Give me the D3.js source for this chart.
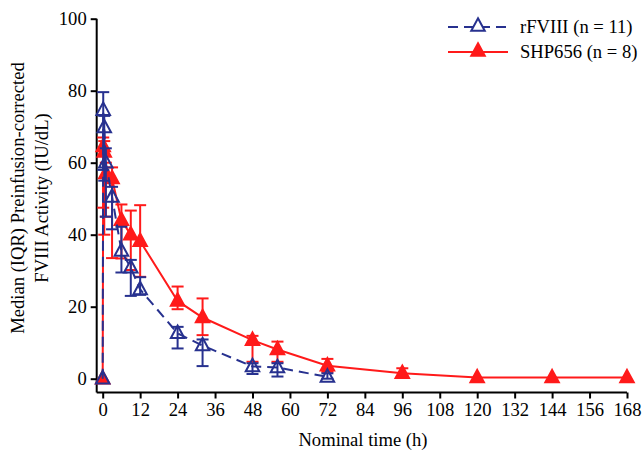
<!DOCTYPE html>
<html>
<head>
<meta charset="utf-8">
<script src="https://cdn.jsdelivr.net/npm/d3@7/dist/d3.min.js"></script>
<style>
  body { margin: 0; background: #fff; }
</style>
</head>
<body>
<svg id="chart" width="644" height="457"></svg>
<script>
// ---- Data ----
const xTicks = [0, 12, 24, 36, 48, 60, 72, 84, 96, 108, 120, 132, 144, 156, 168];
const yTicks = [0, 20, 40, 60, 80, 100];

const rfTime   = [0, 0.17, 0.5, 1, 3, 6, 9, 12, 24, 32, 48, 56, 72];
const rfMedian = [0, 74.6, 69.8, 60, 50.5, 35.5, 30.8, 24.8, 12.6, 9.2, 3.4, 3.1, 0.5];
const rfQ1     = [0, 58, 55, 45, 41.5, 29.5, 23, 23.3, 8.4, 3.5, 1.3, 0.6, 0];
const rfQ3     = [0, 79.6, 73, 64, 53.3, 42.2, 33, 28.2, 14.4, 10.9, 4.3, 4.3, 1.5];

const shpTime   = [0, 0.17, 0.5, 1, 3, 6, 9, 12, 24, 32, 48, 56, 72, 96, 120, 144, 168];
const shpMedian = [0, 64.5, 63, 57, 55.6, 44, 40, 38.2, 21.6, 17, 10.7, 8.1, 3.6, 1.5, 0.3, 0.3, 0.3];
const shpQ1     = [0, 47.5, 40, 45, 33.5, 33.4, 30.2, 28.3, 19.3, 12.1, 4.7, 4.7, 1.9, 0.6, 0.3, 0.3, 0.3];
const shpQ3     = [0, 67, 66, 60, 58.7, 48.4, 46.7, 48.2, 25.6, 22.3, 11.9, 10.3, 5.5, 2.9, 0.3, 0.3, 0.3];

const seriesNames = ["rFVIII (n = 11)", "SHP656 (n = 8)"];

// ---- Layout ----
const FONT = '"Times New Roman", Times, "Liberation Serif", "DejaVu Serif", serif';
const FS = 18.6;
const svg = d3.select("#chart");
const x = d3.scaleLinear().domain([0, 168]).range([102.7, 627]);
const y = d3.scaleLinear().domain([0, 100]).range([378.7, 18.7]);
const axisX = 96.7, axisY = 392.5;
const blue = "#27318f", red = "#ff1a1a";

function tri(cx, cy, w = 13.5, h = 12.5) {
  return `M${cx},${cy - h * 0.62}L${cx + w / 2},${cy + h * 0.38}L${cx - w / 2},${cy + h * 0.38}Z`;
}

// ---- Axes ----
const yAxis = d3.axisLeft(y).tickValues(yTicks).tickSize(6).tickPadding(4);
const gy = svg.append("g").attr("transform", `translate(${axisX},0)`).call(yAxis);
gy.select(".domain").attr("d", `M0,${y(100)}V${axisY}`);
const xAxis = d3.axisBottom(x).tickValues(xTicks).tickSize(6).tickPadding(4);
const gx = svg.append("g").attr("transform", `translate(0,${axisY})`).call(xAxis);
gx.select(".domain").attr("d", `M${axisX},0H${x(168)}`);
[gx, gy].forEach(g => {
  g.attr("font-family", FONT).attr("font-size", FS);
  g.selectAll(".domain, .tick line").attr("stroke", "#000").attr("stroke-width", 2);
  g.selectAll(".tick text").attr("font-size", FS).attr("fill", "#000").attr("font-family", FONT);
});

svg.append("text").attr("x", 363).attr("y", 446).attr("text-anchor", "middle")
  .attr("font-family", FONT).attr("font-size", FS).text("Nominal time (h)");
const yl = svg.append("text").attr("transform", "translate(0,198) rotate(-90)")
  .attr("text-anchor", "middle").attr("font-family", FONT).attr("font-size", FS);
yl.append("tspan").attr("x", 0).attr("y", 24).text("Median (IQR) Preinfusion-corrected");
yl.append("tspan").attr("x", 0).attr("y", 48).text("FVIII Activity (IU/dL)");

// ---- Series ----
function drawSeries(times, med, q1, q3, color, dashed, filled) {
  const g = svg.append("g");
  const pts = times.map((t, i) => ({ t, m: med[i], lo: q1[i], hi: q3[i] }));
  const line = d3.line().x(d => x(d.t)).y(d => y(d.m));
  g.append("path").attr("d", line(pts)).attr("fill", "none").attr("stroke", color)
    .attr("stroke-width", 2).attr("stroke-dasharray", dashed ? "10,6" : null);
  const eb = g.selectAll(".eb").data(pts.filter(d => d.hi - d.lo > 0.5)).join("g");
  eb.append("line").attr("x1", d => x(d.t)).attr("x2", d => x(d.t))
    .attr("y1", d => y(d.lo)).attr("y2", d => y(d.hi)).attr("stroke", color).attr("stroke-width", 2);
  eb.append("line").attr("x1", d => x(d.t) - 6).attr("x2", d => x(d.t) + 6)
    .attr("y1", d => y(d.hi)).attr("y2", d => y(d.hi)).attr("stroke", color).attr("stroke-width", 2);
  eb.append("line").attr("x1", d => x(d.t) - 6).attr("x2", d => x(d.t) + 6)
    .attr("y1", d => y(d.lo)).attr("y2", d => y(d.lo)).attr("stroke", color).attr("stroke-width", 2);
  g.selectAll(".mk").data(pts).join("path").attr("d", d => tri(x(d.t), y(d.m)))
    .attr("fill", filled ? color : "none").attr("stroke", color).attr("stroke-width", 2);
}
drawSeries(shpTime, shpMedian, shpQ1, shpQ3, red, false, true);
drawSeries(rfTime, rfMedian, rfQ1, rfQ3, blue, true, false);

// ---- Legend ----
const leg = svg.append("g");
const legItems = [
  { name: seriesNames[0], color: blue, dashed: true, filled: false, yy: 27 },
  { name: seriesNames[1], color: red, dashed: false, filled: true, yy: 52 }
];
legItems.forEach(it => {
  leg.append("line").attr("x1", 448).attr("x2", 508).attr("y1", it.yy).attr("y2", it.yy)
    .attr("stroke", it.color).attr("stroke-width", 2).attr("stroke-dasharray", it.dashed ? "10,6" : null);
  leg.append("path").attr("d", tri(478, it.yy - 1)).attr("fill", it.filled ? it.color : "#fff")
    .attr("stroke", it.color).attr("stroke-width", 2);
  leg.append("text").attr("x", 520).attr("y", it.yy + 6).attr("font-family", FONT)
    .attr("font-size", FS).text(it.name);
});
</script>
</body>
</html>
